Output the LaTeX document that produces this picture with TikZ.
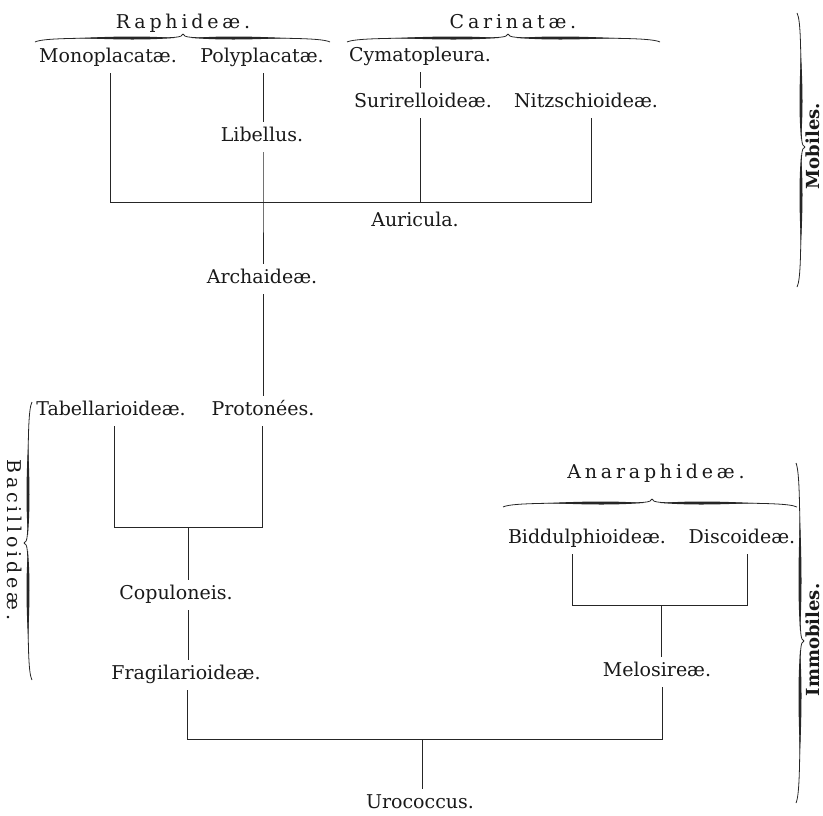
\documentclass[tikz,border=0pt]{standalone}
\usepackage{fontspec}
\setmainfont{DejaVu Serif}
\newfontfamily\spacedfont{DejaVu Serif}[LetterSpace=20]

% one arm of a printer's brace: thin hairline with a swelling near the tip
\newcommand\bracearm[1]{%
  \draw[line width=0.8pt] (0,0) .. controls (1.5,3.5) and (5,4) .. ({0.3*#1},4)
    .. controls ({0.75*#1},4) and ({0.95*#1},4.3) .. (#1,8);
  \fill ({0.06*#1},4) .. controls ({0.25*#1},1.9) and ({0.42*#1},2.1) .. ({0.7*#1},4)
    .. controls ({0.42*#1},5.9) and ({0.25*#1},6.1) .. ({0.06*#1},4) -- cycle;}
% #1 tip, #2 rotation, #3 left arm length, #4 right arm length
\newcommand\typebrace[4]{%
  \begin{scope}[shift={#1}, rotate=#2, black!85]
    \bracearm{#4}
    \begin{scope}[xscale=-1]\bracearm{#3}\end{scope}
  \end{scope}}

\begin{document}
\begin{tikzpicture}[x=1pt,y=-1pt,
  lab/.style={font=\fontsize{19pt}{22pt}\selectfont, text=black!90,
    inner xsep=0pt, inner ysep=7pt, text height=12pt, text depth=4pt, anchor=base},
  group/.style={font=\spacedfont\fontsize{19pt}{22pt}\selectfont, text=black!90,
    inner sep=0pt, anchor=base},
  side/.style={font=\bfseries\fontsize{18pt}{22pt}\selectfont, text=black!90,
    inner sep=0pt, anchor=base},
  link/.style={line width=1pt, draw=black!85}]
\useasboundingbox (0,0) rectangle (823,815);

% group headings and their braces
\node[group] (raph) at (183,28) {Raphideæ.};
\node[group] (cari) at (513,28) {Carinatæ.};
\node[group] (anara) at (656,478) {Anaraphideæ.};
\node[group, rotate=-90] (bacil) at (8,540) {Bacilloideæ.};
\node[side, rotate=90] (mobil) at (819,146) {Mobiles.};
\node[side, rotate=90] (immob) at (819,640) {Immobiles.};

\typebrace{(183,34)}{0}{148}{147}
\typebrace{(508,34)}{0}{161}{152}
\typebrace{(652,499)}{0}{149}{145}
\typebrace{(24,543)}{90}{137}{141}
\typebrace{(805,147)}{-90}{134}{140}
\typebrace{(804,641)}{-90}{178}{162}

% taxa
\node[lab] (mono) at (108,62) {Monoplacatæ.};
\node[lab] (poly) at (262,62) {Polyplacatæ.};
\node[lab] (cyma) at (420,61) {Cymatopleura.};
\node[lab] (suri) at (423,107) {Surirelloideæ.};
\node[lab] (nitz) at (586,107) {Nitzschioideæ.};
\node[lab] (libel) at (262,141) {Libellus.};
\node[lab] (auri) at (415,226) {Auricula.};
\node[lab] (archa) at (262,283) {Archaideæ.};
\node[lab] (tabel) at (111,415) {Tabellarioideæ.};
\node[lab] (proto) at (263,415) {Protonées.};
\node[lab] (bidd) at (587,543) {Biddulphioideæ.};
\node[lab] (disc) at (742,543) {Discoideæ.};
\node[lab] (copu) at (176,599) {Copuloneis.};
\node[lab] (melo) at (657,676) {Melosireæ.};
\node[lab] (frag) at (186,679) {Fragilarioideæ.};
\node[lab] (uro) at (420,808) {Urococcus.};

% junction points of the tree
\coordinate (a1) at (110,202);
\coordinate (a2) at (263,202);
\coordinate (a3) at (420,202);
\coordinate (a4) at (591,202);
\coordinate (b1) at (114,527);
\coordinate (b2) at (262,527);
\coordinate (b3) at (188,527);
\coordinate (c1) at (572,605);
\coordinate (c2) at (747,605);
\coordinate (c3) at (661,605);
\coordinate (d1) at (187,739);
\coordinate (d2) at (662,739);
\coordinate (d3) at (422,739);

% upper part
\draw[link] (a1 |- mono.south) -- (a1) -- (a4) -- (a4 |- nitz.south);
\draw[link] (a3 |- suri.south) -- (a3);
\draw[link] (a3 |- cyma.south) -- (a3 |- suri.north);
\draw[link] (a2 |- poly.south) -- (a2 |- libel.north);
\draw[link] (a2 |- libel.south) -- (a2) -- (a2 |- archa.north);
\draw[link] (a2 |- archa.south) -- (a2 |- proto.north);

% Bacilloideae
\draw[link] (b1 |- tabel.south) -- (b1) -- (b2) -- (b2 |- proto.south);
\draw[link] (b3) -- (b3 |- copu.north);
\draw[link] (b3 |- copu.south) -- (b3 |- frag.north);

% Anaraphideae
\draw[link] (c1 |- bidd.south) -- (c1) -- (c2) -- (c2 |- disc.south);
\draw[link] (c3) -- (c3 |- melo.north);

% root
\draw[link] (d1 |- frag.south) -- (d1) -- (d2) -- (d2 |- melo.south);
\draw[link] (d3) -- (d3 |- uro.north);
\end{tikzpicture}
\end{document}
